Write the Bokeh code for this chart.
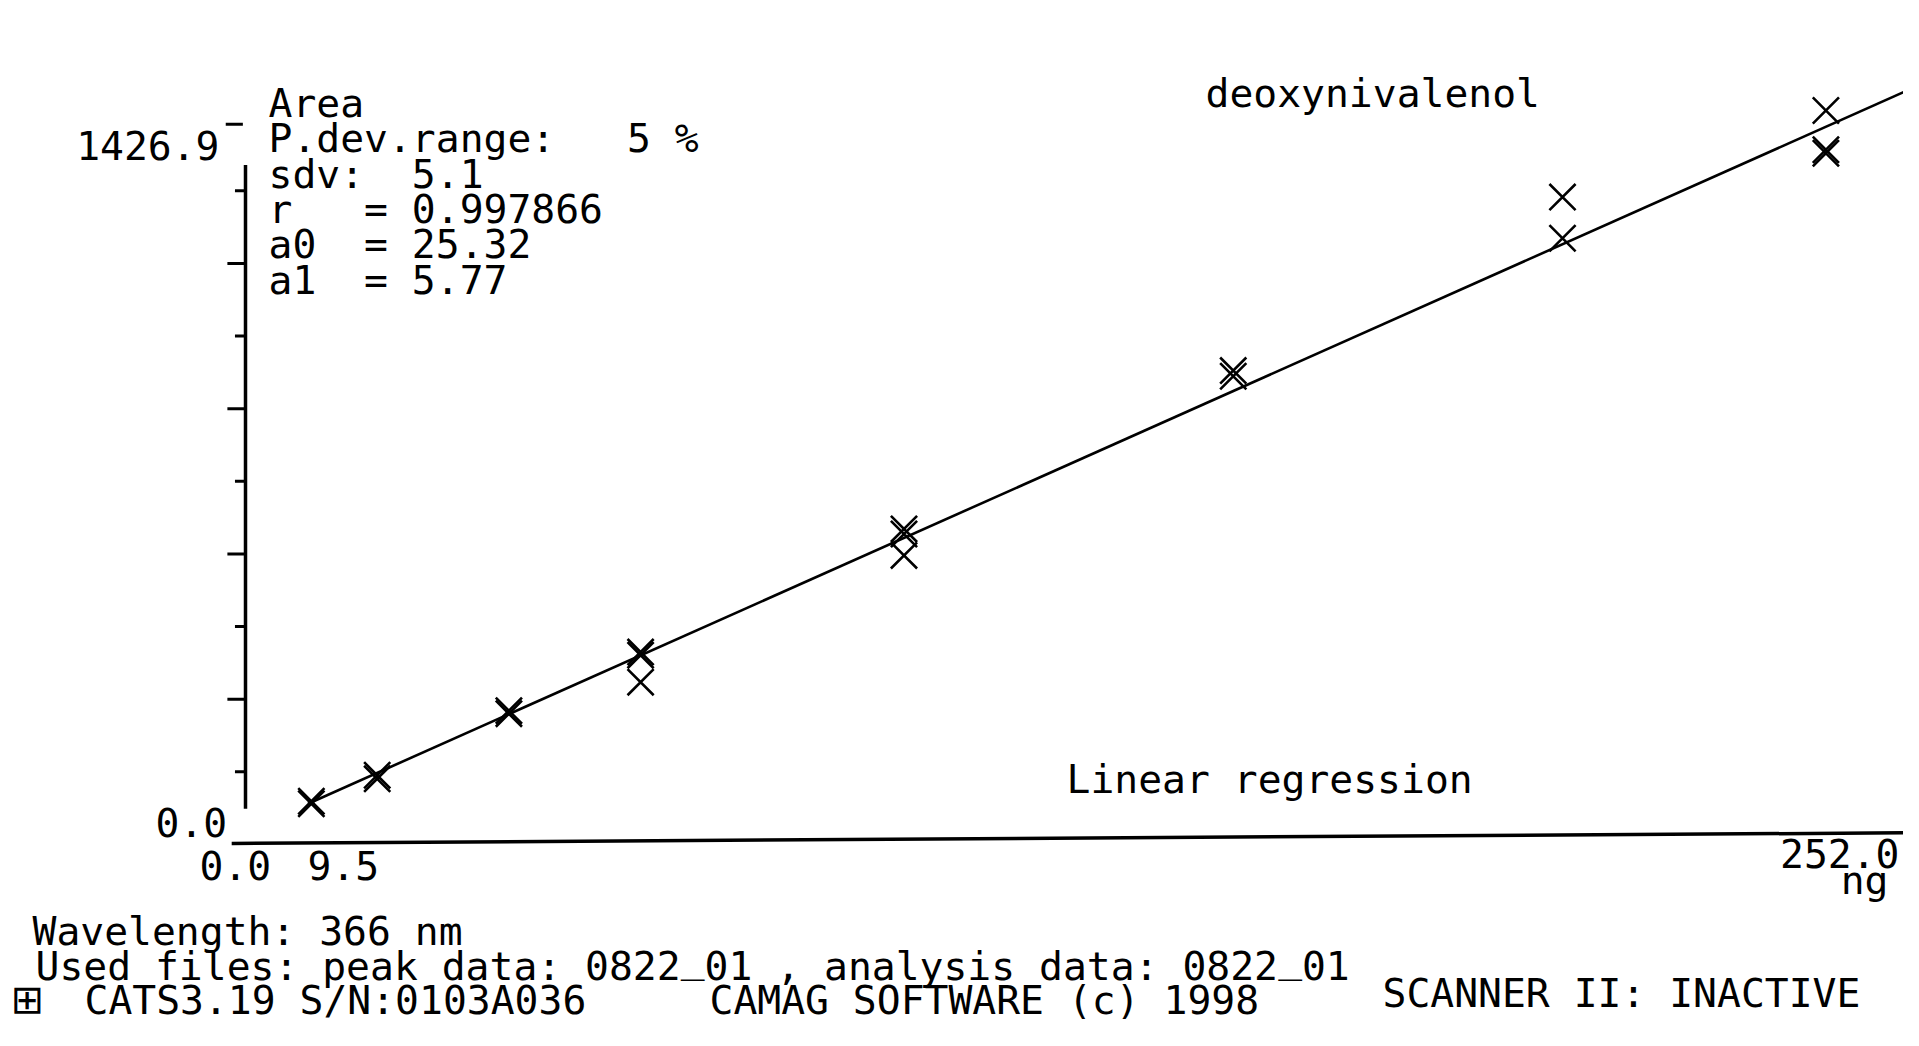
from bokeh.plotting import figure
from bokeh.models import Range1d
from bokeh.embed import file_html
from bokeh.resources import INLINE
from bokeh.core.properties import value

# ---------------- data ----------------
conc = [10, 20, 40, 60, 100, 150, 200, 240]                 # ng
area_track1 = [85, 136, 263, 378, 620, 931, 1272, 1442]
area_track2 = [80, 129, 257, 372, 610, 920, 1191, 1365]
area_track3 = [None, None, None, 319, 568, None, None, 1358]

a0 = 25.32
a1 = 5.77
fit_x = [9.5, 252.0]

y_axis_max = 1426.9
x_axis_max = 252.0
y_ticks_major = [285.38, 570.76, 856.14, 1141.52]
y_ticks_minor = [142.69, 428.07, 713.45, 998.83, 1284.21]
y_tick_top = [1415.0]
y_axis_span = [70, 1335]
x_axis_span = [-2.1, 252.8]
x_axis_level = [2, 23]          # the scanned base line is slightly tilted

info_lines = ["Area", "P.dev.range:   5 %", "sdv:  5.1", "r   = 0.997866",
              "a0  = 25.32", "a1  = 5.77"]
files_line = "Used files: peak data: 0822_01 , analysis data: 0822_01"

# ---------------- layout ----------------
W, H = 1903, 1030
X0_PX, SX = 245.0, 6.585      # px of x=0, px per ng
Y0_PX, SY = 844.0, 0.509      # px of area=0, px per area unit
x_start = -X0_PX / SX
x_end = x_start + W / SX
y_end = Y0_PX / SY
y_start = y_end - H / SY

TEXT_DY = 15.0                # renderer puts alphabetic baseline this much lower
FPX = 39.7
PITCH = FPX * 0.60205


def px(xp, yp):
    """pixel -> data coordinates (for text placement only)"""
    return x_start + xp / SX, y_end - yp / SY


p = figure(width=W, height=H, x_range=Range1d(x_start, x_end),
           y_range=Range1d(y_start, y_end), min_border=0,
           x_axis_location=None, y_axis_location=None,
           toolbar_location=None, output_backend="svg",
           outline_line_color=None, background_fill_color="white",
           border_fill_color="white")
p.grid.visible = False

BLACK = "#000000"
FONT = value("DejaVu Sans Mono")
FS = value("%.1fpx" % FPX)

# axes drawn through the scales
p.line(x_axis_span, x_axis_level, line_color=BLACK, line_width=3.5)
p.line([0, 0], y_axis_span, line_color=BLACK, line_width=3.5)
p.segment(x0=[-2.75] * len(y_ticks_major), y0=y_ticks_major,
          x1=[0] * len(y_ticks_major), y1=y_ticks_major,
          line_color=BLACK, line_width=3)
p.segment(x0=[-1.6] * len(y_ticks_minor), y0=y_ticks_minor,
          x1=[0] * len(y_ticks_minor), y1=y_ticks_minor,
          line_color=BLACK, line_width=3)
p.segment(x0=[-3.0], y0=y_tick_top, x1=[-0.4], y1=y_tick_top,
          line_color=BLACK, line_width=3)

# regression line
p.line(fit_x, [a0 + a1 * x for x in fit_x], line_color=BLACK, line_width=2.6)

# measured points
xs, ys = [], []
for track in (area_track1, area_track2, area_track3):
    for c, a in zip(conc, track):
        if a is not None:
            xs.append(c)
            ys.append(a)
p.scatter(xs, ys, marker="x", size=37, line_color=BLACK, line_width=2.6)


def txt(s, xp, yp, align="left", font=FONT):
    x, y = px(xp, yp - TEXT_DY)
    p.text(x=[x], y=[y], text=[s.replace(" ", "\u00a0")], text_font=font,
           text_font_size=FS, text_color=BLACK, text_align=align,
           text_baseline="alphabetic")


def mono(s, xp, yp):
    """monospace line whose underscores sit on the baseline"""
    txt(s.replace("_", " "), xp, yp)
    for i, ch in enumerate(s):
        if ch == "_":
            txt("_", xp + i * PITCH, yp - 8)


# info block
for i, s in enumerate(info_lines):
    txt(s, 268, 117.5 + i * 35.3)

txt("%.1f" % y_axis_max, 219, 160, align="right")
txt("0.0", 155, 837)
txt("0.0", 199, 880)
txt("9.5", 307, 880)
txt("%.1f" % x_axis_max, 1899, 868, align="right")
txt("ng", 1888, 894, align="right")
txt("deoxynivalenol", 1205, 107.5)
txt("Linear regression", 1066, 793)
txt("Wavelength: 366 nm", 32, 945)
mono(files_line, 35, 980)
txt("\u229e", 10, 1013, font=value("DejaVu Sans"))
txt("CATS3.19 S/N:0103A036", 84, 1014.5)
txt("CAMAG SOFTWARE (c) 1998", 709, 1014.5)
txt("SCANNER II: INACTIVE", 1382, 1007)

open("out.html", "w").write(file_html(p, INLINE))
